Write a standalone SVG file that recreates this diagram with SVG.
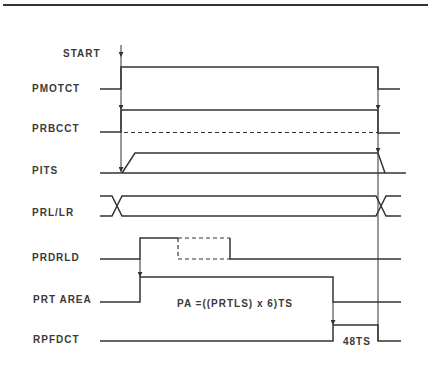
<svg xmlns="http://www.w3.org/2000/svg" width="432" height="387" viewBox="0 0 432 387">
<defs>
<marker id="ah" viewBox="0 0 6 6" refX="6" refY="3" markerWidth="5" markerHeight="5" orient="auto" markerUnits="userSpaceOnUse">
<path d="M0,0 L6,3 L0,6 Z" fill="#333"/>
</marker>
<style>
.sig{fill:none;stroke:#333;stroke-width:1.5;stroke-linejoin:miter}
.dash{fill:none;stroke:#333;stroke-width:1.2;stroke-dasharray:4,3}
.con{fill:none;stroke:#333;stroke-width:1}
.lbl{font-family:"Liberation Sans",Arial,sans-serif;font-size:10px;font-weight:bold;fill:#3a3a3a;letter-spacing:1px}
</style>
</defs>
<rect width="432" height="387" fill="#fff"/>
<rect x="3" y="4" width="425" height="2" fill="#333"/>

<g id="connectors">
<line class="con" x1="121" y1="45" x2="121" y2="57" marker-end="url(#ah)"/>
<line class="con" x1="121" y1="57" x2="121" y2="110" marker-end="url(#ah)"/>
<line class="con" x1="121" y1="110" x2="121" y2="172" marker-end="url(#ah)"/>
<line class="con" x1="378" y1="67" x2="378" y2="110" marker-end="url(#ah)"/>
<line class="con" x1="378" y1="110" x2="378" y2="153" marker-end="url(#ah)"/>
<line class="con" x1="378" y1="153" x2="378" y2="341"/>
<line class="con" x1="140" y1="259" x2="140" y2="277" marker-end="url(#ah)"/>
<line class="con" x1="333" y1="302" x2="333" y2="325" marker-end="url(#ah)"/>
</g>

<g id="start"><text class="lbl" x="63" y="57">START</text></g>

<g id="pmotct">
<text class="lbl" x="32" y="92">PMOTCT</text>
<path class="sig" d="M100,89 H121 V67 H378 V89 H400"/>
</g>

<g id="prbcct">
<text class="lbl" x="32" y="132">PRBCCT</text>
<path class="sig" d="M100,132 H121 V110 H378 V133 H400"/>
<line class="dash" x1="124" y1="132.5" x2="378" y2="132.5"/>
</g>

<g id="pits">
<text class="lbl" x="32" y="174">PITS</text>
<path class="sig" d="M100,173 H406"/>
<path class="sig" d="M122,173 L135,153 H378 L385,173"/>
</g>

<g id="prllr">
<text class="lbl" x="32" y="216">PRL/LR</text>
<path class="sig" d="M100,196 H112 L117,206 L122,216 H376 L381,206 L386,196 H401"/>
<path class="sig" d="M100,216 H112 L117,206 L122,196 H376 L381,206 L386,216 H401"/>
</g>

<g id="prdrld">
<text class="lbl" x="32" y="261">PRDRLD</text>
<path class="sig" d="M100,259 H140 V238 H178"/>
<path class="dash" d="M178,238 H230 M178,238 V259 H230"/>
<path class="sig" d="M230,238 V259 H401"/>
</g>

<g id="prtarea">
<text class="lbl" x="33" y="303">PRT AREA</text>
<path class="sig" d="M100,302 H140 V277 H333 V302 H401"/>
<text class="lbl" x="177" y="307" letter-spacing="0.8">PA =((PRTLS) x 6)TS</text>
</g>

<g id="rpfdct">
<text class="lbl" x="33" y="343">RPFDCT</text>
<path class="sig" d="M100,341 H333 V325 H378 V341 H401"/>
<text class="lbl" x="343" y="345" letter-spacing="0.5">48TS</text>
</g>
</svg>
